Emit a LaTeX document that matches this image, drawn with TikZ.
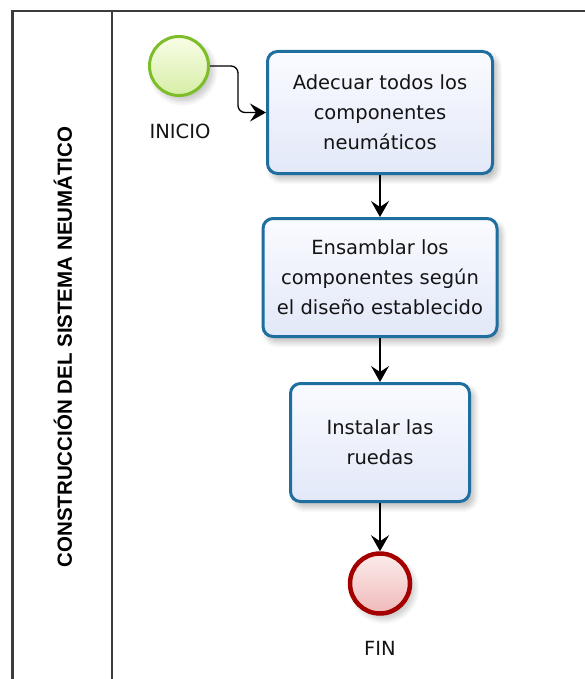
\documentclass[tikz,border=0pt]{standalone}
\usepackage{fontspec}
\setmainfont{DejaVu Sans}
\newfontfamily\lanefont{Liberation Sans}
\usetikzlibrary{arrows.meta,shadows.blur}
\definecolor{frameline}{RGB}{60,60,60}
\definecolor{taskborder}{RGB}{30,110,160}
\definecolor{tasktop}{RGB}{250,251,255}
\definecolor{taskbot}{RGB}{226,232,248}
\definecolor{startborder}{RGB}{125,190,40}
\definecolor{starttop}{RGB}{248,253,232}
\definecolor{startbot}{RGB}{215,238,165}
\definecolor{endborder}{RGB}{165,0,0}
\definecolor{endtop}{RGB}{252,236,236}
\definecolor{endbot}{RGB}{240,185,185}
\definecolor{txt}{RGB}{20,20,20}
\tikzset{
  lane/.style={draw=frameline, line width=2.4pt},
  task/.style={draw=taskborder, line width=3pt, rounded corners=10pt,
    top color=tasktop, bottom color=taskbot, align=center, text=txt,
    font=\fontsize{19.5}{30}\selectfont, inner sep=0pt,
    blur shadow={shadow xshift=4pt, shadow yshift=-5pt, shadow blur steps=12, shadow blur radius=6pt, shadow opacity=30}},
  startev/.style={circle, draw=startborder, line width=3pt, minimum size=59pt,
    top color=starttop, bottom color=startbot, inner sep=0pt,
    blur shadow={shadow xshift=4pt, shadow yshift=-5pt, shadow blur steps=12, shadow blur radius=6pt, shadow opacity=25}},
  endev/.style={circle, draw=endborder, line width=4.5pt, minimum size=60pt,
    top color=endtop, bottom color=endbot, inner sep=0pt,
    blur shadow={shadow xshift=4pt, shadow yshift=-5pt, shadow blur steps=12, shadow blur radius=6pt, shadow opacity=25}},
  evlabel/.style={text=txt, font=\fontsize{19.5}{22}\selectfont, inner sep=0pt},
  flow/.style={draw=black, line width=1.8pt, -{Stealth[length=16pt, width=18pt, inset=6pt]}},
  thinflow/.style={draw=black, line width=1.3pt, rounded corners=7pt, -{Stealth[length=16pt, width=18pt, inset=6pt]}}
}
\begin{document}
\begin{tikzpicture}[x=1pt, y=-1pt]
\useasboundingbox (0,0) rectangle (585,679);
% pool / lane frame
\coordinate (tl) at (12.5,11);
\coordinate (tr) at (586,11);
\coordinate (bl) at (12.5,680);
\coordinate (dt) at (112,11);
\coordinate (db) at (112,680);
\draw[lane] (bl) -- (tl) -- (tr);
\draw[lane] (dt) -- (db);
\node[rotate=90, font=\lanefont\bfseries\fontsize{20.5}{24}\selectfont, text=black, inner sep=0pt] (lanetitle) at (63,347) {CONSTRUCCIÓN DEL SISTEMA NEUMÁTICO};
% events and tasks
\node[startev] (start) at (179,66) {};
\node[evlabel] (startlbl) at (180,131) {INICIO};
\node[task, minimum width=225pt, minimum height=122pt] (b1) at (380,112.5) {Adecuar todos los\\componentes\\neumáticos};
\node[task, minimum width=234pt, minimum height=118pt] (b2) at (380,277.5) {Ensamblar los\\componentes según\\el diseño establecido};
\node[task, minimum width=179pt, minimum height=118pt] (b3) at (380,442.5) {Instalar las\\ruedas};
\node[endev] (finish) at (380,583.5) {};
\node[evlabel] (finlbl) at (380,648) {FIN};
% connectors
\draw[thinflow] (start.east) -- ++(28,0) |- (b1.west);
\draw[flow] (b1.south) -- (b2.north);
\draw[flow] (b2.south) -- (b3.north);
\draw[flow] (b3.south) -- (finish.north);
\end{tikzpicture}
\end{document}
